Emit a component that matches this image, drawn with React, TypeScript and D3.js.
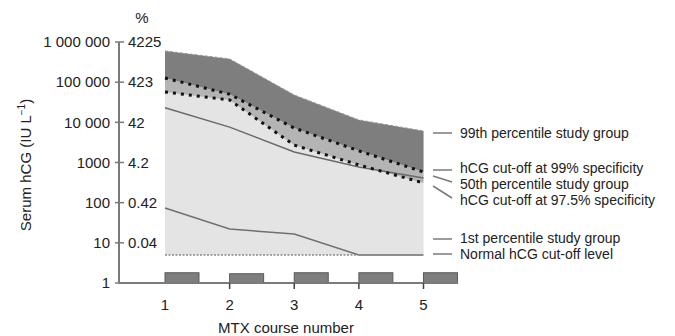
import React from 'react';
import { scaleLog, scaleLinear, area, line } from 'd3';

// MTX course numbers
const courses = [1, 2, 3, 4, 5];
// hCG values (IU/L)
const p99 = [600000, 380000, 48000, 11500, 6100];
const cut99 = [127000, 50000, 7200, 1950, 580];
const cut975 = [57000, 36000, 2700, 870, 310];
const p50 = [23000, 7600, 1820, 770, 410];
const p1 = [74, 22, 16.6, 5, 5];
const normalCut = 5;
const courseBars = [1.8, 1.7, 1.8, 1.8, 1.8];

const leftTicks = [1, 10, 100, 1000, 10000, 100000, 1000000];
const leftLabels = ['1', '10', '100', '1000', '10 000', '100 000', '1 000 000'];
const rightLabels = ['', '0.04', '0.42', '4.2', '42', '423', '4225'];

const legendItems = [
  { text: '99th percentile study group', y: 133, from: 133, to: 133 },
  { text: 'hCG cut-off at 99% specificity', y: 168, from: 170, to: 170 },
  { text: '50th percentile study group', y: 184, from: 176, to: 182 },
  { text: 'hCG cut-off at 97.5% specificity', y: 200, from: 186, to: 198 },
  { text: '1st percentile study group', y: 238, from: 239, to: 239 },
  { text: 'Normal hCG cut-off level', y: 254, from: 254, to: 254 },
];

const App = () => {
  const y = scaleLog().domain([1, 1000000]).range([283, 42]);
  const x = scaleLinear().domain([1, 5]).range([165, 423.5]);

  const idx = courses.map((_, i) => i);

  const band = (top: number[], bottom: number[]) =>
    area<number>()
      .x((i) => x(courses[i]))
      .y0((i) => y(bottom[i]))
      .y1((i) => y(top[i]))(idx) as string;

  const ln = (vals: number[]) =>
    line<number>()
      .x((i) => x(courses[i]))
      .y((i) => y(vals[i]))(idx) as string;

  const font = 'Liberation Sans, Arial, sans-serif';
  const textCol = '#222';
  const axisCol = '#7a7a7a';
  const barW = 34;
  const fs = 15;

  return (
    <svg
      width={675}
      height={336}
      style={{ position: 'absolute', left: 0, top: 0, fontFamily: font }}
    >
      {/* shaded bands */}
      <path d={band(p99, courses.map(() => normalCut))} fill="#e4e4e4" />
      <path d={band(cut99, cut975)} fill="#b4b4b4" />
      <path d={band(p99, cut99)} fill="#7e7e7e" />
      <path d={ln(p99)} fill="none" stroke="#9a9a9a" strokeWidth={1} strokeDasharray="3,2" />

      {/* lines */}
      <path d={ln(p50)} fill="none" stroke="#6a6a6a" strokeWidth={1.5} />
      <path d={ln(p1)} fill="none" stroke="#707070" strokeWidth={1.5} />
      <line
        x1={x(1)}
        x2={x(5)}
        y1={y(normalCut)}
        y2={y(normalCut)}
        stroke="#8a8a8a"
        strokeWidth={1.5}
        strokeDasharray="2,1.5"
      />
      <path d={ln(cut99)} fill="none" stroke="#111" strokeWidth={3} strokeDasharray="3,5" />
      <path d={ln(cut975)} fill="none" stroke="#111" strokeWidth={3} strokeDasharray="3,5" />

      {/* MTX course bars */}
      {courses.map((c, i) => (
        <rect
          key={c}
          x={x(c)}
          y={y(courseBars[i])}
          width={barW}
          height={y(1) - y(courseBars[i])}
          fill="#7e7e7e"
          stroke="#5a5a5a"
          strokeWidth={1}
        />
      ))}

      {/* y axis */}
      <line x1={119} x2={119} y1={y(1000000)} y2={y(1)} stroke={axisCol} strokeWidth={2} />
      {leftTicks.map((t, i) => (
        <g key={t}>
          <line x1={115} x2={124} y1={y(t)} y2={y(t)} stroke={axisCol} strokeWidth={1.5} />
          <text x={110} y={y(t)} dy="0.35em" textAnchor="end" fontSize={fs} fill={textCol}>
            {leftLabels[i]}
          </text>
          <text x={128} y={y(t)} dy="0.35em" textAnchor="start" fontSize={fs} fill={textCol}>
            {rightLabels[i]}
          </text>
        </g>
      ))}
      <text x={142} y={18} dy="0.35em" textAnchor="middle" fontSize={fs} fill={textCol}>
        %
      </text>
      <text
        transform={`translate(26,165) rotate(-90)`}
        textAnchor="middle"
        dy="0.35em"
        fontSize={fs}
        fill={textCol}
      >
        Serum hCG (IU L
        <tspan dy="-6" fontSize={10}>−1</tspan>
        <tspan dy="6">)</tspan>
      </text>

      {/* x axis */}
      <line x1={119} x2={458} y1={y(1)} y2={y(1)} stroke={axisCol} strokeWidth={2} />
      {courses.slice(1).map((c) => (
        <line key={c} x1={x(c)} x2={x(c)} y1={y(1)} y2={y(1) + 6} stroke="#444" strokeWidth={1.5} />
      ))}
      {courses.map((c) => (
        <text key={c} x={x(c)} y={305} dy="0.35em" textAnchor="middle" fontSize={fs} fill={textCol}>
          {c}
        </text>
      ))}
      <text x={286} y={328} dy="0.35em" textAnchor="middle" fontSize={fs} fill={textCol}>
        MTX course number
      </text>

      {/* legend */}
      {legendItems.map((d) => (
        <g key={d.text}>
          <line x1={433} x2={452} y1={d.from} y2={d.to} stroke="#7a7a7a" strokeWidth={1.5} />
          <text x={460} y={d.y} dy="0.35em" fontSize={14} fill={textCol}>
            {d.text}
          </text>
        </g>
      ))}
    </svg>
  );
};

export default App;
